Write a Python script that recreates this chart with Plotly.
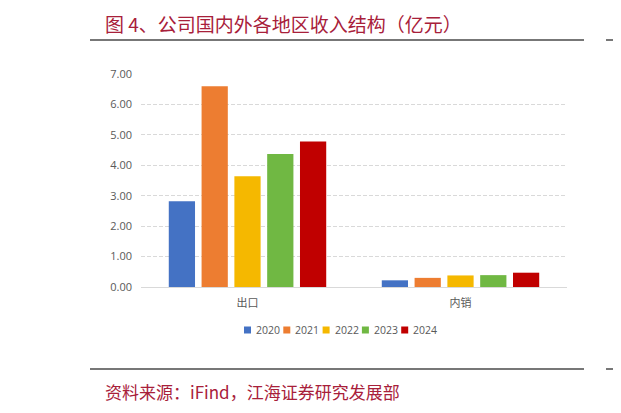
import plotly.graph_objects as go

# 收入结构（亿元）
categories = ["出口", "内销"]
years = ["2020", "2021", "2022", "2023", "2024"]
export_vals = [2.82, 6.60, 3.64, 4.37, 4.78]
domestic_vals = [0.22, 0.30, 0.38, 0.39, 0.47]
colors = ["#4472C4", "#ED7D31", "#F5B800", "#70B843", "#C00000"]

# the page body adds an 8px margin, so lay out in screen pixels minus 8
OFF = 8
W, H = 621 - OFF, 413 - OFF
L, T = 141 - OFF, 74 - OFF
R = W - (567 - OFF)
B = H - (287 - OFF)


def px(x):
    return (x - OFF - L) / (W - L - R)


def py(y):
    return (H - B - (y - OFF)) / (H - T - B)


fig = go.Figure()
for i, yr in enumerate(years):
    fig.add_trace(go.Bar(
        name=yr,
        x=categories,
        y=[export_vals[i], domestic_vals[i]],
        marker=dict(color=colors[i], line=dict(width=0)),
        showlegend=False,
    ))

red = "#A8203A"
line_col = "#4a4a4a"
shapes = []
for yy in (40, 369):
    shapes.append(dict(type="line", xref="paper", yref="paper",
                       x0=px(90), x1=px(584), y0=py(yy), y1=py(yy),
                       line=dict(color=line_col, width=1.5)))
    shapes.append(dict(type="line", xref="paper", yref="paper",
                       x0=px(606), x1=px(630), y0=py(yy), y1=py(yy),
                       line=dict(color=line_col, width=1.5)))

annotations = [
    dict(text="图 4、公司国内外各地区收入结构（亿元）", xref="paper", yref="paper",
         x=px(103), y=py(24), xanchor="left", yanchor="middle", showarrow=False,
         font=dict(family="Noto Sans CJK SC", size=19, color=red)),
    dict(text="资料来源：iFind，江海证券研究发展部", xref="paper", yref="paper",
         x=px(103), y=py(391), xanchor="left", yanchor="middle", showarrow=False,
         font=dict(family="Noto Sans CJK SC", size=17, color=red)),
    dict(text="图", xref="paper", yref="paper",
         x=px(619), y=py(24), xanchor="left", yanchor="middle", showarrow=False,
         font=dict(family="Noto Sans CJK SC", size=17, color=red)),
    dict(text="资", xref="paper", yref="paper",
         x=px(619), y=py(391), xanchor="left", yanchor="middle", showarrow=False,
         font=dict(family="Noto Sans CJK SC", size=16, color=red)),
]

# legend: small squares + year labels
for i, yr in enumerate(years):
    x0 = 244 + i * 39.3
    shapes.append(dict(type="rect", xref="paper", yref="paper",
                       x0=px(x0), x1=px(x0 + 7), y0=py(326.5), y1=py(333.5),
                       fillcolor=colors[i], line=dict(width=0)))
    annotations.append(dict(text=yr, xref="paper", yref="paper",
                            x=px(x0 + 10), y=py(330), xanchor="left", yanchor="middle",
                            showarrow=False,
                            font=dict(family="Open Sans", size=10.5, color="#595959")))

fig.update_layout(
    width=W, height=H,
    margin=dict(l=L, r=R, t=T, b=B),
    paper_bgcolor="white", plot_bgcolor="white",
    barmode="group", bargap=0.23, bargroupgap=0.2,
    font=dict(family="Noto Sans CJK SC", color="#595959", size=11),
    showlegend=False,
    xaxis=dict(showgrid=False, showline=True, linecolor="#D9D9D9", linewidth=1,
               ticks="", ticklabelstandoff=6,
               tickfont=dict(size=11, color="#595959")),
    yaxis=dict(range=[0, 7], dtick=1, tickformat=".2f", showline=False,
               gridcolor="#D9D9D9", griddash="4px,2px", gridwidth=1,
               zeroline=False, ticklabelstandoff=8,
               tickfont=dict(family="Open Sans", size=11, color="#595959")),
    shapes=shapes,
    annotations=annotations,
)

fig.write_html("out.html")
